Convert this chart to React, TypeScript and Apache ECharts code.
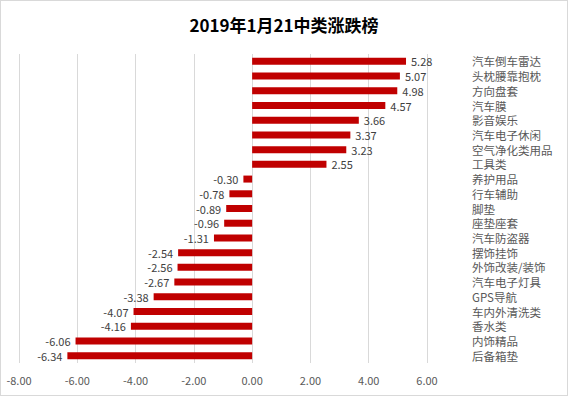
import React, { useEffect, useRef } from "react";
import * as echarts from "echarts";

const categories = [
  "汽车倒车雷达", "头枕腰靠抱枕", "方向盘套", "汽车膜", "影音娱乐", "汽车电子休闲",
  "空气净化类用品", "工具类", "养护用品", "行车辅助", "脚垫", "座垫座套", "汽车防盗器",
  "摆饰挂饰", "外饰改装/装饰", "汽车电子灯具", "GPS导航", "车内外清洗类", "香水类",
  "内饰精品", "后备箱垫",
];
const values = [
  5.28, 5.07, 4.98, 4.57, 3.66, 3.37, 3.23, 2.55, -0.3, -0.78, -0.89, -0.96, -1.31,
  -2.54, -2.56, -2.67, -3.38, -4.07, -4.16, -6.06, -6.34,
];
const titleText = "2019年1月21中类涨跌榜";

export default function App() {
  const ref = useRef<HTMLDivElement>(null);
  useEffect(() => {
    if (!ref.current) return;
    const chart = echarts.init(ref.current, undefined, { renderer: "svg" });
    const font = "'Noto Sans CJK SC', 'Noto Sans', sans-serif";
    chart.setOption({
      animation: false,
      backgroundColor: "#fff",
      title: {
        text: titleText,
        left: "center",
        top: 10,
        textStyle: { fontSize: 17, fontWeight: "bold", color: "#000", fontFamily: font },
      },
      grid: { left: 18, right: 140, top: 53, bottom: 32, containLabel: false },
      xAxis: {
        type: "value",
        min: -8,
        max: 6,
        interval: 2,
        axisLine: { show: false },
        axisTick: { show: false },
        splitLine: { lineStyle: { color: "#d9d9d9" } },
        axisLabel: {
          formatter: (v: number) => v.toFixed(2),
          color: "#595959",
          fontSize: 11,
          margin: 11,
          fontFamily: font,
        },
      },
      yAxis: {
        type: "category",
        data: categories,
        inverse: true,
        position: "right",
        axisLine: { show: false },
        axisTick: { show: false },
        splitLine: { show: false },
        axisLabel: {
          interval: 0,
          margin: 45,
          align: "left",
          color: "#595959",
          fontSize: 11.5,
          lineHeight: 13,
          fontFamily: font,
        },
      },
      series: [
        {
          type: "bar",
          data: values.map((v) => ({
            value: v,
            label: { position: v >= 0 ? "right" : "left" },
          })),
          barWidth: 7,
          itemStyle: { color: "#C00000" },
          label: {
            show: true,
            formatter: (p: any) => Number(p.value).toFixed(2),
            color: "#404040",
            fontSize: 11,
            lineHeight: 13,
            distance: 5,
            fontFamily: font,
          },
        },
      ],
    });
    return () => chart.dispose();
  }, []);
  return (
    <div
      ref={ref}
      style={{
        position: "absolute",
        left: 0,
        top: 0,
        width: 568,
        height: 396,
        border: "1px solid #d9d9d9",
        boxSizing: "border-box",
      }}
    />
  );
}
